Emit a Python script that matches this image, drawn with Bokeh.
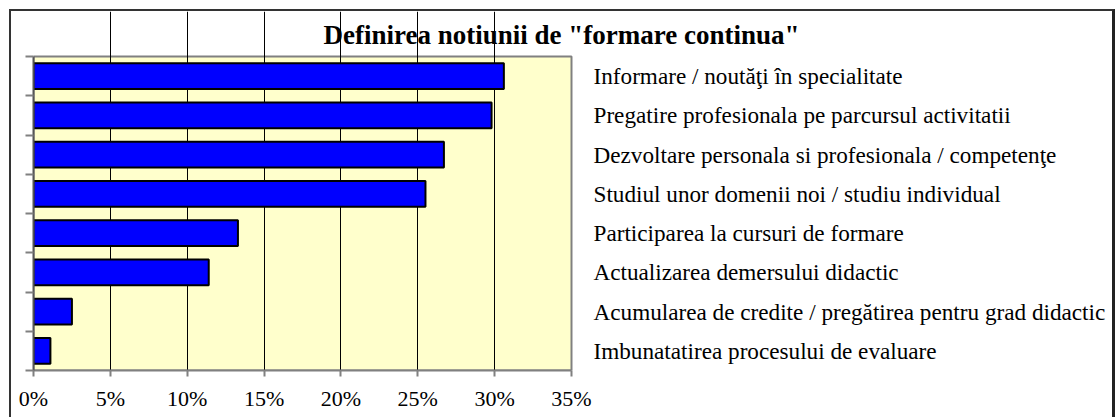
from bokeh.plotting import figure
from bokeh.models import ColumnDataSource, Range1d, FixedTicker, NumeralTickFormatter
from bokeh.embed import file_html
from bokeh.resources import INLINE
from bokeh.core.properties import value

# ---- data ----
categories = [
    "Informare / nout\u0103\u0163i \u00een specialitate",
    "Pregatire profesionala pe parcursul activitatii",
    "Dezvoltare personala si profesionala / competen\u0163e",
    "Studiul unor domenii noi / studiu individual",
    "Participarea la cursuri de formare",
    "Actualizarea demersului didactic",
    "Acumularea de credite / preg\u0103tirea pentru grad didactic",
    "Imbunatatirea procesului de evaluare",
]
shares = [0.306, 0.298, 0.267, 0.255, 0.133, 0.114, 0.025, 0.011]
x_ticks = [0.0, 0.05, 0.10, 0.15, 0.20, 0.25, 0.30, 0.35]
title_text = 'Definirea notiunii de "formare continua"'

SERIF = "Liberation Serif"
n = len(categories)
slot = [n - i - 0.5 for i in range(n)]   # slot centre, first category on top

# ---- layout (pixels) ----
PLOT_W, PLOT_H = 538, 314        # plot area
FRAME_W, FRAME_H = 1079, 359     # frame incl. label column / title strip
x_end = x_ticks[-1] * FRAME_W / PLOT_W
y_end = n * FRAME_H / PLOT_H

src = ColumnDataSource(dict(cat=categories, val=shares, pos=slot))

p = figure(
    frame_width=FRAME_W, frame_height=FRAME_H,
    min_border_left=22, min_border_right=0, min_border_top=0, min_border_bottom=47,
    x_range=Range1d(0, x_end), y_range=Range1d(0, y_end),
    output_backend="svg", toolbar_location=None,
)
p.styles = {
    "margin-left": "9px", "margin-top": "9px",
    "border-top": "2px solid #333333",
    "border-left": "2px solid #333333",
    "border-right": "3px solid #222222",
}
p.background_fill_color = "white"
p.border_fill_color = "white"
p.outline_line_color = None

# plot area background with grey border
bg = p.quad(left=x_ticks[0], right=x_ticks[-1], bottom=0, top=n,
            fill_color="#FFFFCC", line_color="#808080", line_width=2)
bg.level = "image"

# bars
p.hbar(y="pos", left=0, right="val", height=0.66, source=src,
       fill_color="#0000FF", line_color="black", line_width=2)

# grid (inner vertical lines)
p.ygrid.visible = False
p.xgrid.ticker = FixedTicker(ticks=x_ticks[1:-1])
p.xgrid.grid_line_color = "black"
p.xgrid.grid_line_width = 1

# x axis
xa = p.xaxis[0]
xa.bounds = (x_ticks[0], x_ticks[-1])
xa.ticker = FixedTicker(ticks=x_ticks)
xa.formatter = NumeralTickFormatter(format="0%")
xa.major_label_text_font = SERIF
xa.major_label_text_font_size = "22px"
xa.major_label_text_color = "black"
xa.axis_line_color = "#808080"
xa.axis_line_width = 2
xa.major_tick_line_color = "#808080"
xa.major_tick_line_width = 2
xa.major_tick_out = 6
xa.major_tick_in = 0
xa.minor_tick_line_color = None
xa.major_label_standoff = 9

# left axis: ticks at category boundaries, no labels
ya = p.yaxis[0]
ya.bounds = (0, n)
ya.ticker = FixedTicker(ticks=list(range(n + 1)))
ya.major_label_overrides = {i: "" for i in range(n + 1)}
ya.major_label_standoff = 0
ya.axis_line_color = "#555555"
ya.axis_line_width = 2
ya.major_tick_line_color = "#808080"
ya.major_tick_line_width = 2
ya.major_tick_out = 8
ya.major_tick_in = 0
ya.minor_tick_line_color = None

# category labels to the right of the plot area
p.text(x=x_ticks[-1], y="pos", text="cat", source=src,
       x_offset=22, text_align="left", text_baseline="middle",
       text_font=value(SERIF), text_font_size=value("23.2px"), text_color="black")

# title
p.text(x=[x_ticks[-1]], y=[n], text=[title_text],
       x_offset=-10, y_offset=-22, text_align="center", text_baseline="middle",
       text_font=value(SERIF), text_font_size=value("27px"),
       text_font_style="bold", text_color="black")

open("out.html", "w").write(file_html(p, INLINE))
